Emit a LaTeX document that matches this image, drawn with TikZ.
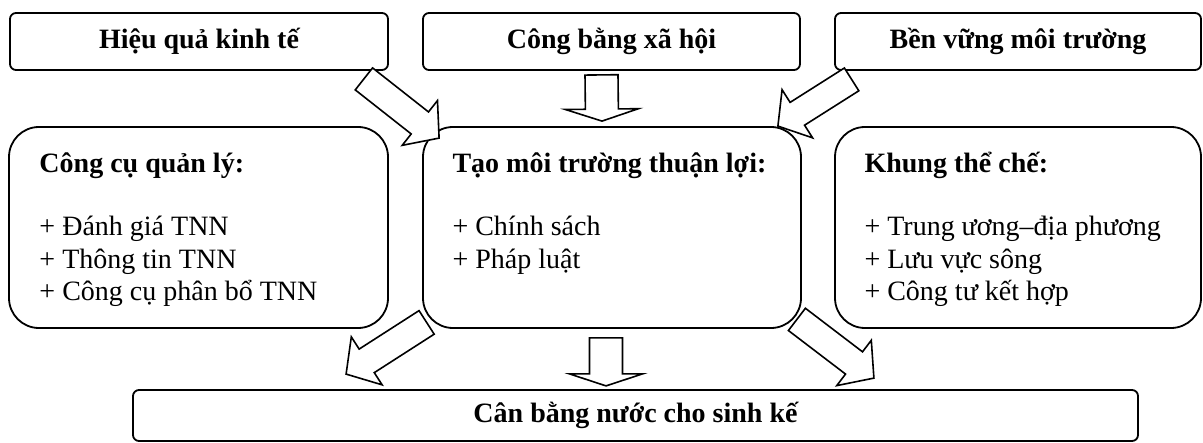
\documentclass[tikz,border=0pt]{standalone}
\usepackage{fontspec}
\setmainfont{Liberation Serif}
\usetikzlibrary{calc}
\tikzset{>=latex}
\tikzset{
	topbox/.style = {draw, line width=0.9pt, rounded corners=3pt, minimum height=28.5pt, inner sep=0pt, font=\fontsize{14}{16.2}\selectfont\bfseries},
	midbox/.style = {draw, line width=0.9pt, rounded corners=15pt, minimum height=100.5pt, inner sep=0pt},
	listtext/.style = {anchor=north west, align=left, inner sep=0pt, font=\fontsize{14}{16.2}\selectfont},
	fat arrow/.style = {draw, fill=white, line width=0.8pt, line join=miter}
}
% block arrow: tail, tip, shaft half width, head half width, head length
\newcommand{\fatarrow}[5]{
	\coordinate (fa) at ($ (#2)!#5!(#1) $);
	\draw[fat arrow] ($ (#1)!#3!90:(#2) $) -- ($ (fa)!#3!90:(#2) $) -- ($ (fa)!#4!90:(#2) $) -- (#2)
		-- ($ (fa)!#4!-90:(#2) $) -- ($ (fa)!#3!-90:(#2) $) -- ($ (#1)!#3!-90:(#2) $) -- cycle;
}

\begin{document}
\begin{tikzpicture}[x=0.5pt, y=-0.5pt]
		\useasboundingbox (0,0) rectangle (1203,443);

		% Goals
		\node[topbox, minimum width=189pt] (econ) at (199,41.5) {Hiệu quả kinh tế};
		\node[topbox, minimum width=188.5pt] (social) at (611.5,41.5) {Công bằng xã hội};
		\node[topbox, minimum width=183pt] (env) at (1018,41.5) {Bền vững môi trường};

		% Pillars
		\node[midbox, minimum width=189.5pt] (tools) at (198.5,227.5) {};
		\node[midbox, minimum width=189pt] (enable) at (612,227.5) {};
		\node[midbox, minimum width=183pt] (inst) at (1018,227.5) {};

		\node[listtext] (toolstext) at ($ (tools.north west)+(31,23.3) $)
			{\strut\textbf{Công cụ quản lý:}\\[15.5pt]+ Đánh giá TNN\\+ Thông tin TNN\\+ Công cụ phân bổ TNN};
		\node[listtext] (enabletext) at ($ (enable.north west)+(30,23.3) $)
			{\strut\textbf{Tạo môi trường thuận lợi:}\\[15.5pt]+ Chính sách\\+ Pháp luật};
		\node[listtext] (insttext) at ($ (inst.north west)+(30,23.3) $)
			{\strut\textbf{Khung thể chế:}\\[15.5pt]+ Trung ương–địa phương\\+ Lưu vực sông\\+ Công tư kết hợp};

		% Result
		\node[topbox, minimum width=502.5pt, minimum height=25.5pt] (balance) at (635.5,415.5) {Cân bằng nước cho sinh kế};

		% Arrow ends
		\coordinate (a1s) at ($ (econ.south east)+(-25,8) $);
		\coordinate (a1e) at ($ (enable.north west)+(17,12) $);
		\coordinate (a2s) at ($ (social.south)+(-10,4) $);
		\coordinate (a2e) at ($ (enable.north)+(-10,-5) $);
		\coordinate (a3s) at ($ (env.south west)+(17.5,8.5) $);
		\coordinate (a3e) at ($ (enable.north east)+(-24,0) $);
		\coordinate (b1s) at ($ (enable.south west)+(4.5,-6.5) $);
		\coordinate (b1e) at ($ (balance.north west)+(214,-15) $);
		\coordinate (b2s) at ($ (enable.south)+(-6,9) $);
		\coordinate (b2e) at ($ (enable.south)+(-6,57) $);
		\coordinate (b3s) at ($ (enable.south east)+(-5,-9.5) $);
		\coordinate (b3e) at ($ (balance.north east)+(-265,-11) $);

		% Arrows
		\fatarrow{a1s}{a1e}{7pt}{14.25pt}{12.25pt}
		\fatarrow{a2s}{a2e}{8.25pt}{18.25pt}{6pt}
		\fatarrow{a3s}{a3e}{6.75pt}{14.25pt}{11.5pt}
		\fatarrow{b1s}{b1e}{7pt}{14.25pt}{12.25pt}
		\fatarrow{b2s}{b2e}{8.25pt}{18.25pt}{6pt}
		\fatarrow{b3s}{b3e}{7pt}{14.25pt}{12.5pt}
\end{tikzpicture}
\end{document}
